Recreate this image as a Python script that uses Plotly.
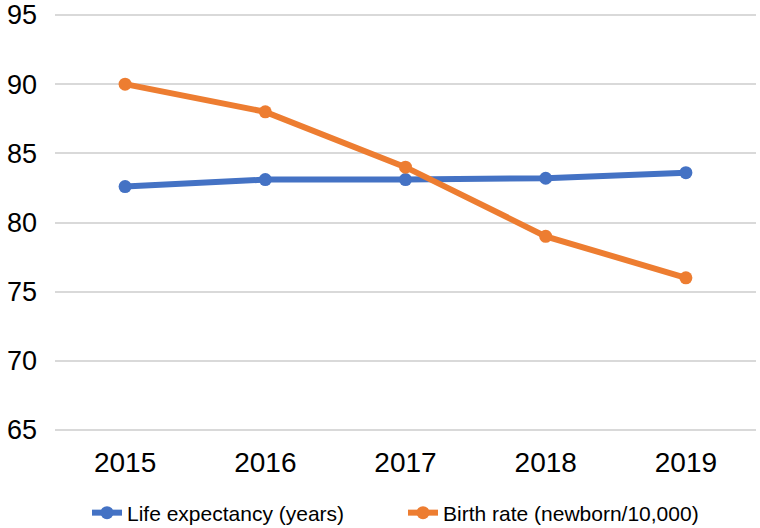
import plotly.graph_objects as go

years = ["2015", "2016", "2017", "2018", "2019"]
life_expectancy = [82.6, 83.1, 83.1, 83.2, 83.6]
birth_rate = [90.0, 88.0, 84.0, 79.0, 76.0]
y_ticks = [65, 70, 75, 80, 85, 90, 95]

BLUE = "#4472C4"
ORANGE = "#ED7D31"
FONT = "Liberation Sans, Arial, Helvetica, sans-serif"

W, H = 760, 528

fig = go.Figure()
fig.add_trace(go.Scatter(
    x=years, y=life_expectancy, name="Life expectancy (years)",
    mode="lines+markers",
    line=dict(color=BLUE, width=6),
    marker=dict(color=BLUE, size=13),
))
fig.add_trace(go.Scatter(
    x=years, y=birth_rate, name="Birth rate (newborn/10,000)",
    mode="lines+markers",
    line=dict(color=ORANGE, width=6),
    marker=dict(color=ORANGE, size=13),
))

fig.update_layout(
    width=W, height=H,
    margin=dict(l=55, r=4, t=13, b=96, autoexpand=False),
    paper_bgcolor="white", plot_bgcolor="white",
    font=dict(family=FONT, color="#000000"),
    showlegend=True,
    legend=dict(
        orientation="h", xref="container", yref="container",
        x=87 / W, xanchor="left", y=15 / H, yanchor="middle",
        font=dict(size=21, family=FONT), itemwidth=30,
        traceorder="normal", entrywidth=271, entrywidthmode="pixels",
    ),
    xaxis=dict(
        type="category", range=[-0.5, 4.5],
        showgrid=False, zeroline=False, showline=False,
        tickfont=dict(size=28, family=FONT), ticks="", ticklabelstandoff=11,
    ),
    yaxis=dict(
        range=[64.855, 95.145], tickvals=y_ticks, showgrid=True,
        gridcolor="#D9D9D9", gridwidth=2, zeroline=False, showline=False,
        tickfont=dict(size=27, family=FONT), ticks="", ticklabelstandoff=17,
        ticklabeloverflow="allow",
    ),
)

fig.write_html(
    "out.html",
    config={"displayModeBar": False},
    post_script="document.body.style.margin='0px';",
)
